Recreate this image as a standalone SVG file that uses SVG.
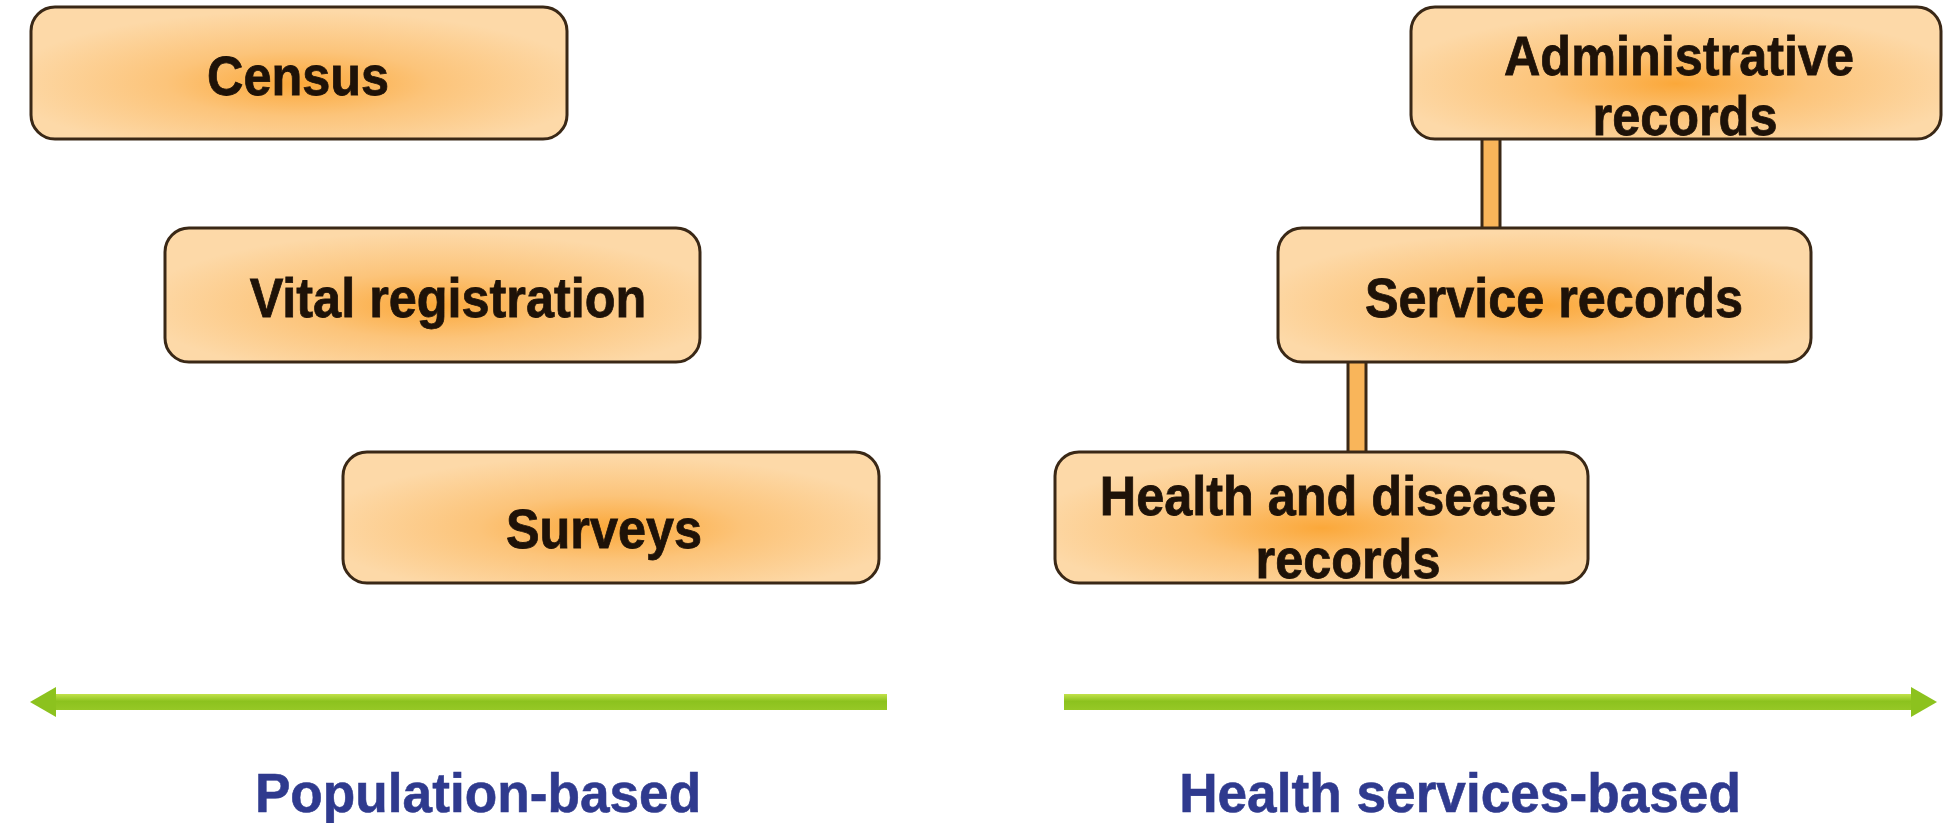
<svg xmlns="http://www.w3.org/2000/svg" width="1944" height="823" viewBox="0 0 1944 823">
<defs>
<radialGradient id="boxfill" cx="50%" cy="58%" r="55%">
<stop offset="0" stop-color="#fba83a"/>
<stop offset="0.45" stop-color="#fcc47a"/>
<stop offset="1" stop-color="#fdd9a8"/>
</radialGradient>
<linearGradient id="green" x1="0" y1="0" x2="0" y2="1">
<stop offset="0" stop-color="#c2e24a"/>
<stop offset="0.45" stop-color="#8cc21e"/>
<stop offset="1" stop-color="#96c826"/>
</linearGradient>
</defs>
<style>
.box{fill:url(#boxfill);stroke:#3a2816;stroke-width:3}
.lbl{font-family:"Liberation Sans",Arial,sans-serif;font-weight:bold;font-size:56px;fill:#1e1208;stroke:#1e1208;stroke-width:0.8;text-anchor:middle}
.axis{font-family:"Liberation Sans",Arial,sans-serif;font-weight:bold;font-size:56px;fill:#2f3a8e;stroke:#2f3a8e;stroke-width:0.6;text-anchor:middle}
.conn{fill:#f9b55a}
.connedge{stroke:#3a2816;stroke-width:3}
</style>
<rect width="1944" height="823" fill="#ffffff"/>
<g id="connectors">
<rect class="conn" x="1482" y="139" width="18" height="90"/>
<line class="connedge" x1="1482" y1="139" x2="1482" y2="228"/>
<line class="connedge" x1="1500" y1="139" x2="1500" y2="228"/>
<rect class="conn" x="1348" y="362" width="18" height="90"/>
<line class="connedge" x1="1348" y1="362" x2="1348" y2="452"/>
<line class="connedge" x1="1366" y1="362" x2="1366" y2="452"/>
</g>
<g id="census">
<rect class="box" x="31" y="7" width="536" height="132" rx="24"/>
<text class="lbl" transform="translate(298,95) scale(0.9,1)">Census</text>
</g>
<g id="vital-registration">
<rect class="box" x="165" y="228" width="535" height="134" rx="24"/>
<text class="lbl" transform="translate(448,317) scale(0.9,1)">Vital registration</text>
</g>
<g id="surveys">
<rect class="box" x="343" y="452" width="536" height="131" rx="24"/>
<text class="lbl" transform="translate(604,548) scale(0.9,1)">Surveys</text>
</g>
<g id="administrative-records">
<rect class="box" x="1411" y="7" width="530" height="132" rx="24"/>
<text class="lbl" transform="translate(1679,75) scale(0.9,1)">Administrative</text>
<text class="lbl" transform="translate(1685,135) scale(0.9,1)">records</text>
</g>
<g id="service-records">
<rect class="box" x="1278" y="228" width="533" height="134" rx="24"/>
<text class="lbl" transform="translate(1554,317) scale(0.9,1)">Service records</text>
</g>
<g id="health-disease-records">
<rect class="box" x="1055" y="452" width="533" height="131" rx="24"/>
<text class="lbl" transform="translate(1328,515) scale(0.9,1)">Health and disease</text>
<text class="lbl" transform="translate(1348,578) scale(0.9,1)">records</text>
</g>
<g id="axis-population">
<rect x="50" y="694" width="837" height="16" fill="url(#green)"/>
<polygon points="30,702 56,687 56,717" fill="#8cc21e"/>
<text class="axis" transform="translate(478,812) scale(0.95,1)">Population-based</text>
</g>
<g id="axis-health">
<rect x="1064" y="694" width="852" height="16" fill="url(#green)"/>
<polygon points="1937,702 1911,687 1911,717" fill="#8cc21e"/>
<text class="axis" transform="translate(1460,812) scale(0.95,1)">Health services-based</text>
</g>
</svg>
